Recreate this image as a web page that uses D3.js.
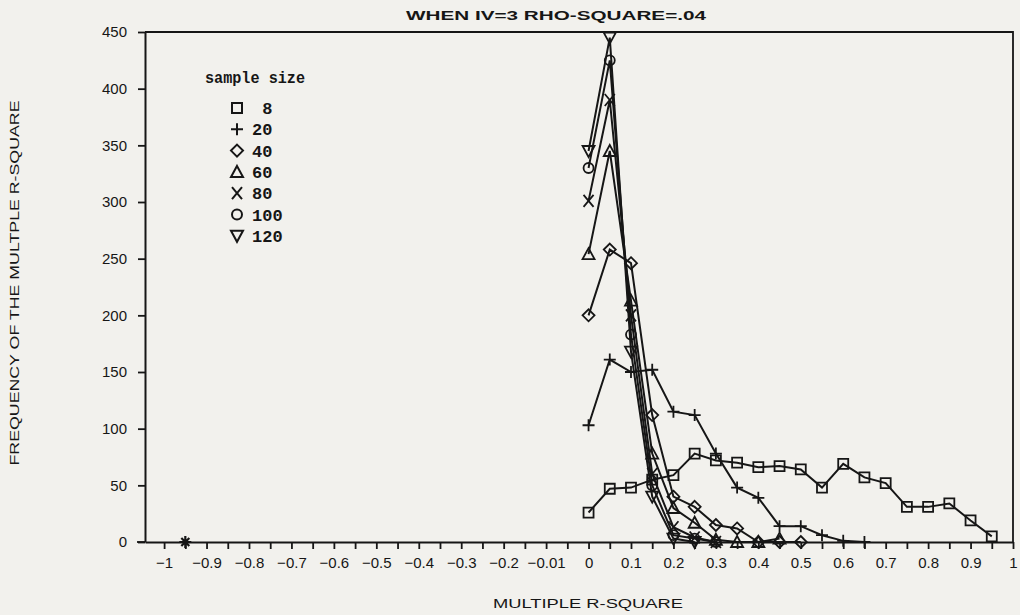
<!DOCTYPE html>
<html>
<head>
<meta charset="utf-8">
<script src="https://cdn.jsdelivr.net/npm/d3@7"></script>
<style>
  body { margin: 0; background: #f2f1ed; }
  svg { display: block; font-family: "Liberation Sans", Arial, sans-serif; }
</style>
</head>
<body>
<svg id="chart"></svg>
<script>
// multiple R-square classes (x) and frequencies per sample size
const rsq = [0, 0.05, 0.1, 0.15, 0.2, 0.25, 0.3, 0.35, 0.4, 0.45, 0.5, 0.55, 0.6, 0.65, 0.7, 0.75, 0.8, 0.85, 0.9, 0.95];
const sampleSizes = [8, 20, 40, 60, 80, 100, 120];
const freq8   = [26, 47, 48, 55, 59, 78, 72, 70, 66, 67, 64, 48, 69, 57, 52, 31, 31, 34, 19, 5];
const freq20  = [103, 161, 150, 152, 115, 112, 78, 48, 39, 14, 14, 6, 1, 0];
const freq40  = [200, 258, 246, 112, 40, 31, 15, 12, 0, 0, 0];
const freq60  = [254, 345, 213, 78, 30, 17, 2, 0, 0, 3];
const freq80  = [301, 390, 200, 60, 13, 4, 0];
const freq100 = [330, 425, 183, 50, 6, 3, 0];
const freq120 = [345, 445, 168, 40, 3, 0];
// lone point drawn left of zero
const strayX = [-0.95];
const strayF = [0];

const xTickLabels = ["\u22121", "\u22120.9", "\u22120.8", "\u22120.7", "\u22120.6", "\u22120.5", "\u22120.4", "\u22120.3", "\u22120.2", "\u22120.01",
  "0", "0.1", "0.2", "0.3", "0.4", "0.5", "0.6", "0.7", "0.8", "0.9", "1"];
const yTicks = [0, 50, 100, 150, 200, 250, 300, 350, 400, 450];

const allFreq = [freq8, freq20, freq40, freq60, freq80, freq100, freq120];
const shapes = ["square", "plus", "diamond", "triangle", "cross", "circle", "triangleDown"];

const margin = { top: 32, right: 7, bottom: 73, left: 145 };
const W = 1020, H = 615;
const width = W - margin.left - margin.right;
const height = H - margin.top - margin.bottom;
const ink = "#161616";

const svg = d3.select("#chart").attr("width", W).attr("height", H);
const g = svg.append("g").attr("transform", `translate(${margin.left},${margin.top})`);

const x = d3.scaleLinear().domain([-1.045, 1]).range([0, width]);
const y = d3.scaleLinear().domain([0, 450]).range([height, 0]);

const symbolPath = {
  square: "M-5,-5h10v10h-10z",
  plus: "M-6,0h12M0,-6v12",
  diamond: "M0,-6L6,0L0,6L-6,0Z",
  triangle: "M0,-6L6,5H-6Z",
  cross: "M-5,-6L5,6M5,-6L-5,6",
  circle: "M5,0A5,5 0 1,1 -5,0A5,5 0 1,1 5,0",
  triangleDown: "M-6,-5H6L0,6Z",
  star: "M-6,0h12M0,-6v12M-4,-4L4,4M4,-4L-4,4"
};

// frame
g.append("path")
  .attr("d", `M0,0H${width}V${height}`)
  .attr("fill", "none").attr("stroke", ink).attr("stroke-width", 1.8);

// y axis
const yAxis = g.append("g")
  .call(d3.axisLeft(y).tickValues(yTicks).tickSize(7).tickSizeOuter(0).tickPadding(11));
yAxis.selectAll("text").attr("font-size", 15).attr("fill", ink);

// x axis, ticks every 0.05, labels every 0.1
const xTickVals = d3.range(-20, 21).map(i => i / 20);
const xAxis = g.append("g")
  .attr("transform", `translate(0,${height})`)
  .call(d3.axisBottom(x).tickValues(xTickVals).tickSize(7).tickSizeOuter(0).tickPadding(8)
    .tickFormat((d, i) => i % 2 === 0 ? xTickLabels[i / 2] : ""));
xAxis.selectAll("text").attr("font-size", 15).attr("fill", ink);

[yAxis, xAxis].forEach(a => {
  a.selectAll("path, line").attr("stroke", ink).attr("stroke-width", 1.8);
  a.select(".domain").attr("stroke-width", 2);
});
// extend baseline left under the 0 tick
g.append("line").attr("x1", -8).attr("x2", 0).attr("y1", height).attr("y2", height)
  .attr("stroke", ink).attr("stroke-width", 1.8);

// series
const line = d3.line().x(d => x(d[0])).y(d => y(d[1]));
allFreq.forEach((vals, k) => {
  const pts = vals.map((v, i) => [rsq[i], v]);
  g.append("path")
    .datum(pts)
    .attr("d", line)
    .attr("fill", "none").attr("stroke", ink).attr("stroke-width", 2);
  g.selectAll(null)
    .data(pts)
    .enter()
    .append("path")
    .attr("transform", d => `translate(${x(d[0])},${y(d[1])})`)
    .attr("d", symbolPath[shapes[k]])
    .attr("fill", "none").attr("stroke", ink).attr("stroke-width", 1.8);
});

g.selectAll(null)
  .data(strayX.map((v, i) => [v, strayF[i]]))
  .enter()
  .append("path")
  .attr("transform", d => `translate(${x(d[0])},${y(d[1])})`)
  .attr("d", symbolPath.star)
  .attr("fill", "none").attr("stroke", ink).attr("stroke-width", 2.2);

// legend
const legend = svg.append("g").attr("font-family", "'Liberation Mono', 'DejaVu Sans Mono', monospace")
  .attr("font-weight", "bold").attr("fill", ink);
legend.append("text").attr("x", 205).attr("y", 83).attr("font-size", 16)
  .attr("textLength", 100).attr("lengthAdjust", "spacingAndGlyphs").text("sample size");
sampleSizes.forEach((n, i) => {
  const cy = 108 + i * 21.3;
  legend.append("path")
    .attr("transform", `translate(237,${cy})`)
    .attr("d", symbolPath[shapes[i]])
    .attr("fill", "none").attr("stroke", ink).attr("stroke-width", 2);
  legend.append("text")
    .attr("x", 252).attr("y", cy + 6).attr("font-size", 17)
    .style("white-space", "pre")
    .text(n < 10 ? " " + n : String(n));
});

// titles
svg.append("text").attr("x", 556).attr("y", 20).attr("text-anchor", "middle")
  .attr("font-size", 12).attr("font-weight", "bold").attr("fill", ink)
  .attr("textLength", 300).attr("lengthAdjust", "spacingAndGlyphs")
  .text("WHEN IV=3 RHO-SQUARE=.04");
svg.append("text").attr("x", 588).attr("y", 608).attr("text-anchor", "middle")
  .attr("font-size", 12).attr("fill", ink)
  .attr("textLength", 190).attr("lengthAdjust", "spacingAndGlyphs")
  .text("MULTIPLE R-SQUARE");
svg.append("text")
  .attr("transform", "translate(19,283) rotate(-90)")
  .attr("text-anchor", "middle").attr("font-size", 12).attr("fill", ink)
  .attr("textLength", 365).attr("lengthAdjust", "spacingAndGlyphs")
  .text("FREQUENCY OF THE MULTPLE R-SQUARE");
</script>
</body>
</html>
